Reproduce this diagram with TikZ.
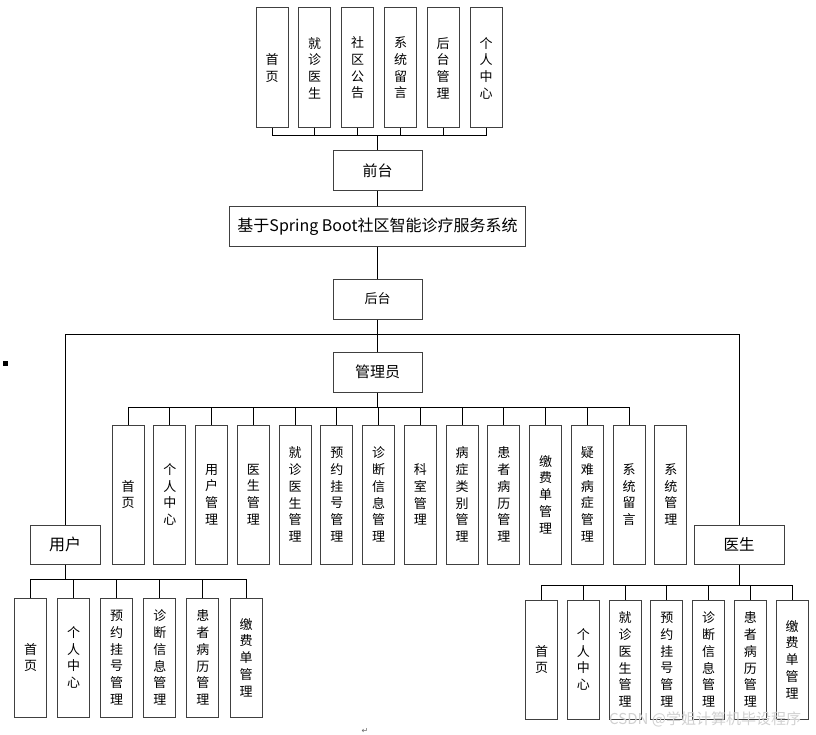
\documentclass[tikz,border=0pt]{standalone}
\usepackage{fontspec}
\setmainfont{Noto Sans CJK SC}
\newfontfamily\dejavu{DejaVu Sans}
\begin{document}
\begin{tikzpicture}[x=1pt,y=-1pt,
  box/.style={draw=black!75, line width=1pt, fill=white, inner sep=0pt},
  vbox/.style={box, minimum width=32pt, align=center, font=\fontsize{13}{16.7}\selectfont},
  hbox/.style={box, minimum width=89pt, minimum height=40pt},
  conn/.style={draw=black, line width=0.9pt}]
\useasboundingbox[fill=white] (0,0) rectangle (816,735);

% top (front-end) modules
\foreach \i/\x/\t in {1/272/首\\页, 2/314.5/就\\诊\\医\\生, 3/357.5/社\\区\\公\\告, 4/400.5/系\\统\\留\\言, 5/443/后\\台\\管\\理, 6/486/个\\人\\中\\心}
  \node[vbox, minimum height=120pt] (t\i) at (\x,68) {\t};

\node[hbox, font=\fontsize{15}{18}\selectfont] (qt) at (377.5,170.5) {前台};
\node[box, minimum width=296pt, minimum height=40pt, font=\fontsize{16}{19}\selectfont] (sys) at (377.5,227) {基于Spring Boot社区智能诊疗服务系统};
\node[hbox, font=\fontsize{13}{16}\selectfont] (ht) at (377.5,299) {后台};
\node[hbox, font=\fontsize{15}{18}\selectfont] (gly) at (377.5,372) {管理员};
\node[box, minimum width=70pt, minimum height=39pt, font=\fontsize{16}{19}\selectfont] (yh) at (65,544.5) {用户};
\node[box, minimum width=90pt, minimum height=39pt, font=\fontsize{15.5}{19}\selectfont] (ys) at (739,544.5) {医生};

% admin modules
\foreach \i/\t in {1/首\\页, 2/个\\人\\中\\心, 3/用\\户\\管\\理, 4/医\\生\\管\\理, 5/就\\诊\\医\\生\\管\\理, 6/预\\约\\挂\\号\\管\\理, 7/诊\\断\\信\\息\\管\\理, 8/科\\室\\管\\理, 9/病\\症\\类\\别\\管\\理, 10/患\\者\\病\\历\\管\\理, 11/缴\\费\\单\\管\\理, 12/疑\\难\\病\\症\\管\\理, 13/系\\统\\留\\言, 14/系\\统\\管\\理}
  \node[vbox, minimum height=139pt] (a\i) at ({128+41.75*(\i-1)},494.5) {\t};

% user modules
\foreach \i/\t in {1/首\\页, 2/个\\人\\中\\心, 3/预\\约\\挂\\号\\管\\理, 4/诊\\断\\信\\息\\管\\理, 5/患\\者\\病\\历\\管\\理, 6/缴\\费\\单\\管\\理}
  \node[vbox, minimum height=119pt] (u\i) at ({30.5+43.1*(\i-1)},657.5) {\t};

% doctor modules
\foreach \i/\t in {1/首\\页, 2/个\\人\\中\\心, 3/就\\诊\\医\\生\\管\\理, 4/预\\约\\挂\\号\\管\\理, 5/诊\\断\\信\\息\\管\\理, 6/患\\者\\病\\历\\管\\理, 7/缴\\费\\单\\管\\理}
  \node[vbox, minimum height=119pt] (d\i) at ({541.5+41.75*(\i-1)},659.5) {\t};

% bus coordinates
\coordinate (tb) at (377.5,135);
\coordinate (hb) at (377.5,334);
\coordinate (ab) at (377.5,407);
\coordinate (ub) at (65,579);
\coordinate (db) at (739,585);

% connectors
\draw[conn] (qt.north) -- (tb);
\foreach \i in {1,...,6} \draw[conn] (tb) -| (t\i.south);
\draw[conn] (qt.south) -- (sys.north);
\draw[conn] (sys.south) -- (ht.north);
\draw[conn] (ht.south) -- (gly.north);
\draw[conn] (hb) -| (yh.north);
\draw[conn] (hb) -| (ys.north);
\draw[conn] (gly.south) -- (ab);
\foreach \i in {1,...,13} \draw[conn] (ab) -| (a\i.north);
\draw[conn] (yh.south) -- (ub);
\foreach \i in {1,...,6} \draw[conn] (ub) -| (u\i.north);
\draw[conn] (ys.south) -- (db);
\foreach \i in {1,...,7} \draw[conn] (db) -| (d\i.north);

% stray marks
\fill[black] (3,361) rectangle (8,366);
\node[font=\dejavu\fontsize{8}{9}\selectfont, text=black!60, inner sep=0pt] (ret) at (365,731) {↵};
\node[font=\fontsize{15}{18}\selectfont, text=black!18, inner sep=0pt, anchor=west] (wm) at (609,719) {CSDN @学姐计算机毕设程序};
\end{tikzpicture}
\end{document}
